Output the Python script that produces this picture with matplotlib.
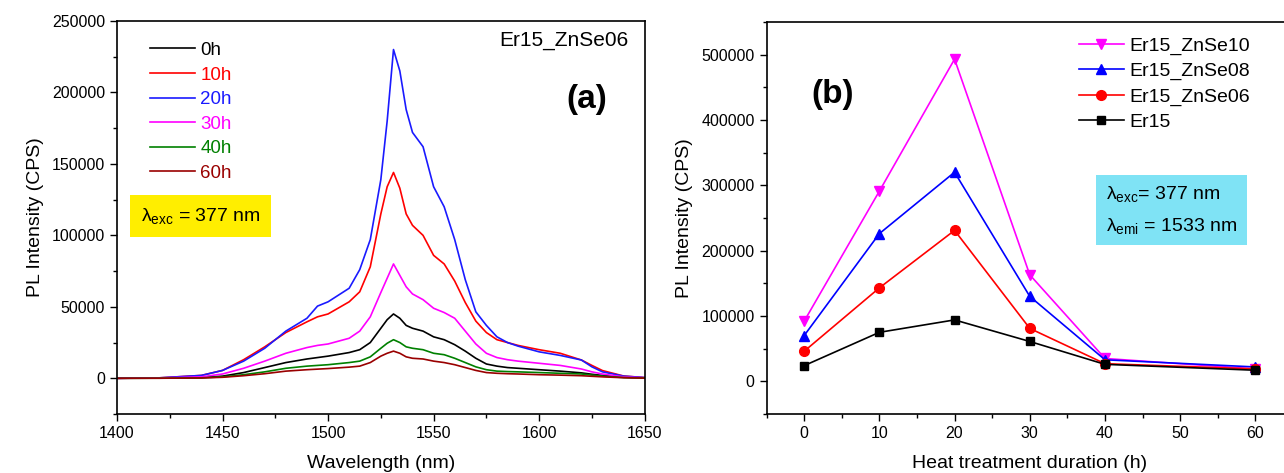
import matplotlib.pyplot as plt
from matplotlib.ticker import MultipleLocator

plt.rcParams['font.family'] = ['Liberation Sans', 'DejaVu Sans']
plt.rcParams['mathtext.fontset'] = 'custom'
plt.rcParams['mathtext.rm'] = 'Liberation Sans'
plt.rcParams['mathtext.it'] = 'Liberation Sans:italic'

# (a) PL spectra, Er15_ZnSe06
wavelength = [1400, 1420, 1440, 1450, 1460, 1470, 1480, 1490, 1495, 1500, 1510, 1515,
              1520, 1525, 1528, 1531, 1534, 1537, 1540, 1545, 1550, 1555, 1560, 1565,
              1570, 1575, 1580, 1585, 1590, 1600, 1610, 1620, 1625, 1630, 1640, 1650]
spec_0h = [0, 100, 500, 1500, 4000, 7500, 11000, 13500, 14500, 15500, 18000, 20000,
           25000, 35000, 41000, 45000, 42000, 37000, 35000, 33000, 29000, 27000, 23500, 19000,
           14000, 10000, 8500, 7500, 7000, 6000, 5000, 3800, 2800, 2000, 700, 200]
spec_10h = [0, 300, 2000, 5500, 13000, 22000, 32000, 39500, 43000, 45000, 53500, 60500,
            78000, 115000, 134000, 144000, 133000, 115000, 107000, 100000, 86000, 80000, 68000, 53000,
            40000, 32000, 27000, 25000, 23000, 20000, 17500, 12800, 9000, 5400, 1600, 500]
spec_20h = [0, 300, 2000, 5500, 12000, 21000, 33000, 42000, 50500, 53500, 63000, 76000,
            97000, 139000, 180000, 230000, 215000, 188000, 172000, 162000, 134000, 120000, 97000, 69000,
            46500, 37000, 29000, 25000, 22500, 18500, 16000, 12800, 8000, 4500, 1500, 500]
spec_30h = [0, 200, 1000, 3000, 7000, 12000, 17500, 21500, 23000, 24000, 28000, 33000,
            43000, 60000, 70000, 80000, 72000, 64000, 59000, 55000, 49000, 46000, 42000, 33000,
            24000, 17500, 14500, 13000, 12000, 10500, 9000, 6500, 4500, 3000, 1000, 300]
spec_40h = [0, 50, 300, 1000, 2500, 4500, 7000, 8500, 9000, 9500, 11000, 12000,
            15000, 21000, 24500, 27000, 25000, 22000, 21000, 20000, 17500, 16500, 14000, 11000,
            8000, 6000, 5000, 4700, 4500, 4000, 3500, 3000, 2200, 1500, 500, 200]
spec_60h = [0, 30, 200, 700, 1800, 3200, 5000, 6000, 6400, 6800, 7800, 8500,
            11000, 15500, 17500, 19000, 17500, 15000, 14000, 13500, 12000, 11000, 9500, 7500,
            5500, 4000, 3500, 3200, 3000, 2500, 2200, 1800, 1400, 1000, 400, 100]
spec_labels = ['0h', '10h', '20h', '30h', '40h', '60h']
spec_colors = ['black', '#ff0000', '#1a1aff', '#ff00ff', '#008000', '#990000']

# (b) peak intensity vs heat treatment time
hours = [0, 10, 20, 30, 40, 60]
er15_znse10 = [92000, 291000, 493000, 163000, 35000, 19000]
er15_znse08 = [70000, 226000, 320000, 130000, 33000, 22000]
er15_znse06 = [46000, 143000, 231000, 81000, 27000, 19000]
er15 = [24000, 75000, 94000, 61000, 26000, 17000]

fig = plt.figure(figsize=(12.84, 4.73), dpi=100)
ax1 = fig.add_axes([0.0911, 0.1247, 0.411, 0.831])
ax2 = fig.add_axes([0.597, 0.1247, 0.41, 0.829])

for ax in (ax1, ax2):
    ax.tick_params(which='both', direction='out', labelsize=11.5, top=False, right=False)
    ax.tick_params(which='major', length=5, width=1)
    ax.tick_params(which='minor', length=3, width=1)
    for s in ax.spines.values():
        s.set_linewidth(1.2)

# panel (a)
spectra = [spec_0h, spec_10h, spec_20h, spec_30h, spec_40h, spec_60h]
for y, lab, c in zip(spectra, spec_labels, spec_colors):
    ax1.plot(wavelength, y, color=c, lw=1.2, label=lab)
ax1.set_xlim(1400, 1650)
ax1.set_ylim(-25000, 250000)
ax1.xaxis.set_major_locator(MultipleLocator(50))
ax1.xaxis.set_minor_locator(MultipleLocator(25))
ax1.yaxis.set_major_locator(MultipleLocator(50000))
ax1.yaxis.set_minor_locator(MultipleLocator(25000))
ax1.set_xlabel('Wavelength (nm)', fontsize=14, labelpad=10)
ax1.set_ylabel('PL Intensity (CPS)', fontsize=14, labelpad=6)
leg1 = ax1.legend(loc='upper left', bbox_to_anchor=(0.03, 0.99), frameon=False,
                  fontsize=13.5, handlelength=2.4, handletextpad=0.3, labelspacing=0.4)
for t, c in zip(leg1.get_texts(), spec_colors):
    t.set_color(c)
ax1.text(0.97, 0.95, 'Er15_ZnSe06', transform=ax1.transAxes, ha='right', va='center', fontsize=15)
ax1.text(0.89, 0.80, '(a)', transform=ax1.transAxes, ha='center', va='center',
         fontsize=24, fontweight='bold')
ax1.text(0.045, 0.504, r'$\mathrm{\lambda}_{\mathrm{exc}}$ = 377 nm', transform=ax1.transAxes,
         ha='left', va='center', fontsize=14,
         bbox=dict(boxstyle='square,pad=0.55', facecolor='#ffee00', edgecolor='none'))

# panel (b)
ax2.plot(hours, er15_znse10, color='#ff00ff', marker='v', ms=7, lw=1.2, label='Er15_ZnSe10')
ax2.plot(hours, er15_znse08, color='#0000ff', marker='^', ms=7, lw=1.2, label='Er15_ZnSe08')
ax2.plot(hours, er15_znse06, color='#ff0000', marker='o', ms=7, lw=1.2, label='Er15_ZnSe06')
ax2.plot(hours, er15, color='black', marker='s', ms=6, lw=1.2, label='Er15')
ax2.set_xlim(-5, 65)
ax2.set_ylim(-50000, 550000)
ax2.xaxis.set_major_locator(MultipleLocator(10))
ax2.xaxis.set_minor_locator(MultipleLocator(5))
ax2.yaxis.set_major_locator(MultipleLocator(100000))
ax2.yaxis.set_minor_locator(MultipleLocator(50000))
ax2.set_xlabel('Heat treatment duration (h)', fontsize=14, labelpad=10)
ax2.set_ylabel('PL Intensity (CPS)', fontsize=14, labelpad=6)
ax2.legend(loc='upper left', bbox_to_anchor=(0.56, 1.005), frameon=False,
           fontsize=14, handlelength=2.3, handletextpad=0.3, labelspacing=0.38)
ax2.text(0.126, 0.815, '(b)', transform=ax2.transAxes, ha='center', va='center',
         fontsize=24, fontweight='bold')
ax2.text(0.645, 0.52, r'$\mathrm{\lambda}_{\mathrm{exc}}$= 377 nm' + '\n' +
         r'$\mathrm{\lambda}_{\mathrm{emi}}$ = 1533 nm', transform=ax2.transAxes,
         ha='left', va='center', fontsize=14, linespacing=1.75,
         bbox=dict(boxstyle='square,pad=0.5', facecolor='#7fe3f5', edgecolor='none'))

fig.savefig('out.png', dpi=100)
